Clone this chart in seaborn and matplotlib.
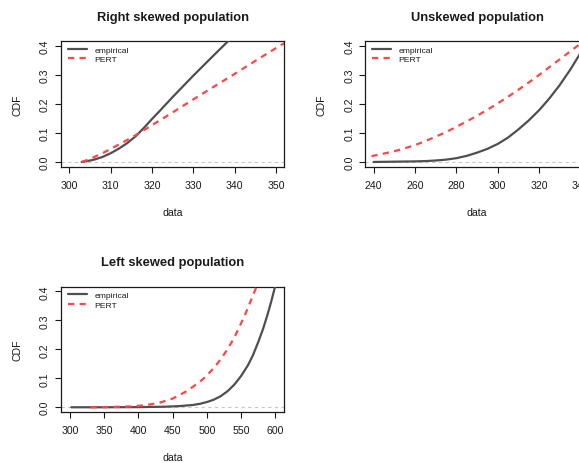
import matplotlib
matplotlib.use("Agg")
import matplotlib.pyplot as plt
import seaborn as sns
import pandas as pd

# ---- curve values (x, CDF) ----
right_emp_x = [303, 304, 306, 308, 310, 312, 314, 316, 318, 320, 322, 325, 330, 335, 339, 341]
right_emp_y = [0.0, 0.002, 0.008, 0.017, 0.030, 0.046, 0.065, 0.088, 0.117, 0.148, 0.178,
               0.224, 0.298, 0.369, 0.425, 0.452]
right_pert_x = [303, 304, 306, 308, 310, 313, 316, 320, 325, 330, 335, 340, 345, 350, 352]
right_pert_y = [0.0, 0.005, 0.017, 0.030, 0.045, 0.068, 0.092, 0.127, 0.171, 0.216, 0.260,
                0.304, 0.349, 0.393, 0.410]

unsk_emp_x = [240, 250, 260, 265, 270, 275, 280, 285, 290, 295, 300, 305, 310, 315, 320,
              325, 330, 335, 340]
unsk_emp_y = [0.0, 0.001, 0.002, 0.003, 0.005, 0.008, 0.013, 0.021, 0.032, 0.045, 0.062,
              0.084, 0.112, 0.143, 0.178, 0.219, 0.265, 0.317, 0.375]
unsk_pert_x = [239, 245, 250, 255, 260, 265, 270, 275, 280, 285, 290, 295, 300, 305, 310,
               315, 320, 325, 330, 335, 340]
unsk_pert_y = [0.020, 0.029, 0.037, 0.047, 0.058, 0.072, 0.087, 0.103, 0.121, 0.140, 0.159,
               0.180, 0.202, 0.225, 0.249, 0.274, 0.300, 0.327, 0.354, 0.381, 0.408]

left_emp_x = [302, 350, 400, 440, 460, 480, 490, 500, 510, 520, 530, 540, 550, 560, 567,
              575, 582, 588, 594, 600, 603]
left_emp_y = [0.0, 0.0, 0.0005, 0.002, 0.004, 0.008, 0.012, 0.018, 0.026, 0.038, 0.055,
              0.078, 0.108, 0.145, 0.178, 0.225, 0.270, 0.315, 0.365, 0.420, 0.450]
left_pert_x = [330, 360, 390, 410, 430, 450, 470, 490, 500, 510, 520, 530, 540, 548, 555,
               562, 568, 574]
left_pert_y = [0.0, 0.001, 0.003, 0.007, 0.015, 0.030, 0.055, 0.088, 0.110, 0.135, 0.165,
               0.200, 0.240, 0.280, 0.315, 0.355, 0.390, 0.425]

titles = ["Right skewed population", "Unskewed population", "Left skewed population"]
x_ticks = [[300, 310, 320, 330, 340, 350],
           [240, 260, 280, 300, 320, 340],
           [300, 350, 400, 450, 500, 550, 600]]
x_ranges = [(300, 350), (240, 340), (299, 601)]
y_ticks = [0.0, 0.1, 0.2, 0.3, 0.4]
series_labels = ["empirical", "PERT"]

sns.set_theme(style="white")
plt.rcParams["font.family"] = ["Liberation Sans", "DejaVu Sans"]

W, H = 579, 464
fig = plt.figure(figsize=(W / 100, H / 100), dpi=100)
fig.patch.set_facecolor("white")


def box(left, top, width, height):
    return [left / W, (H - top - height) / H, width / W, height / H]


aw, ah = 223.3, 125.2
axes = [
    fig.add_axes(box(61, 42.4, aw, ah)),
    fig.add_axes(box(365.3, 42.4, aw, ah)),
    fig.add_axes(box(61, 287.7, aw, ah)),
]

curves = [
    (right_emp_x, right_emp_y, right_pert_x, right_pert_y),
    (unsk_emp_x, unsk_emp_y, unsk_pert_x, unsk_pert_y),
    (left_emp_x, left_emp_y, left_pert_x, left_pert_y),
]

gray = "#4f4f4f"
red = "#ff4545"
ink = "#1a1a1a"

for ax, title, (ex, ey, px, py), xt, (lo, hi) in zip(axes, titles, curves, x_ticks, x_ranges):
    ax.set_facecolor("white")
    ext = 0.04 * (hi - lo)
    ax.set_xlim(lo - ext, hi + ext)
    ax.set_ylim(-0.016, 0.416)

    # reference line at CDF = 0
    ax.axhline(0, color="#c8c8c8", lw=0.8, linestyle=(0, (3, 3)), zorder=1)

    emp = pd.DataFrame({"data": ex, "CDF": ey})
    pert = pd.DataFrame({"data": px, "CDF": py})
    sns.lineplot(data=emp, x="data", y="CDF", ax=ax, color=gray, lw=1.6,
                 label=series_labels[0], zorder=3)
    sns.lineplot(data=pert, x="data", y="CDF", ax=ax, color=red, lw=1.6,
                 linestyle=(0, (2.8, 2.4)), label=series_labels[1], zorder=3)

    ax.set_xticks(xt)
    ax.set_yticks(y_ticks)
    ax.set_yticklabels([f"{v:.1f}" for v in y_ticks], rotation=90, va="center")
    ax.tick_params(axis="both", which="major", direction="out", length=4.6,
                   width=0.8, color=ink, labelsize=7.6, labelcolor=ink, bottom=True, left=True)
    ax.tick_params(axis="x", pad=4.8)
    ax.tick_params(axis="y", pad=3.4)
    for sp in ax.spines.values():
        sp.set_visible(True)
        sp.set_color(ink)
        sp.set_linewidth(0.9)

    ax.set_title(title, fontsize=9.25, fontweight="bold", color=ink, pad=15.5)
    ax.set_xlabel("data", fontsize=7.6, color=ink)
    ax.set_ylabel("CDF", fontsize=7.6, color=ink)
    ax.xaxis.set_label_coords(0.5, -0.319)
    ax.yaxis.set_label_coords(-0.173, 0.5)

    leg = ax.legend(loc="upper left", bbox_to_anchor=(0.032, 0.965), frameon=False,
                    fontsize=6.1, handlelength=2.2, handletextpad=0.9,
                    labelspacing=0.2, borderpad=0, borderaxespad=0)
    for t in leg.get_texts():
        t.set_color(ink)

fig.savefig("out.png", dpi=100, facecolor="white")
